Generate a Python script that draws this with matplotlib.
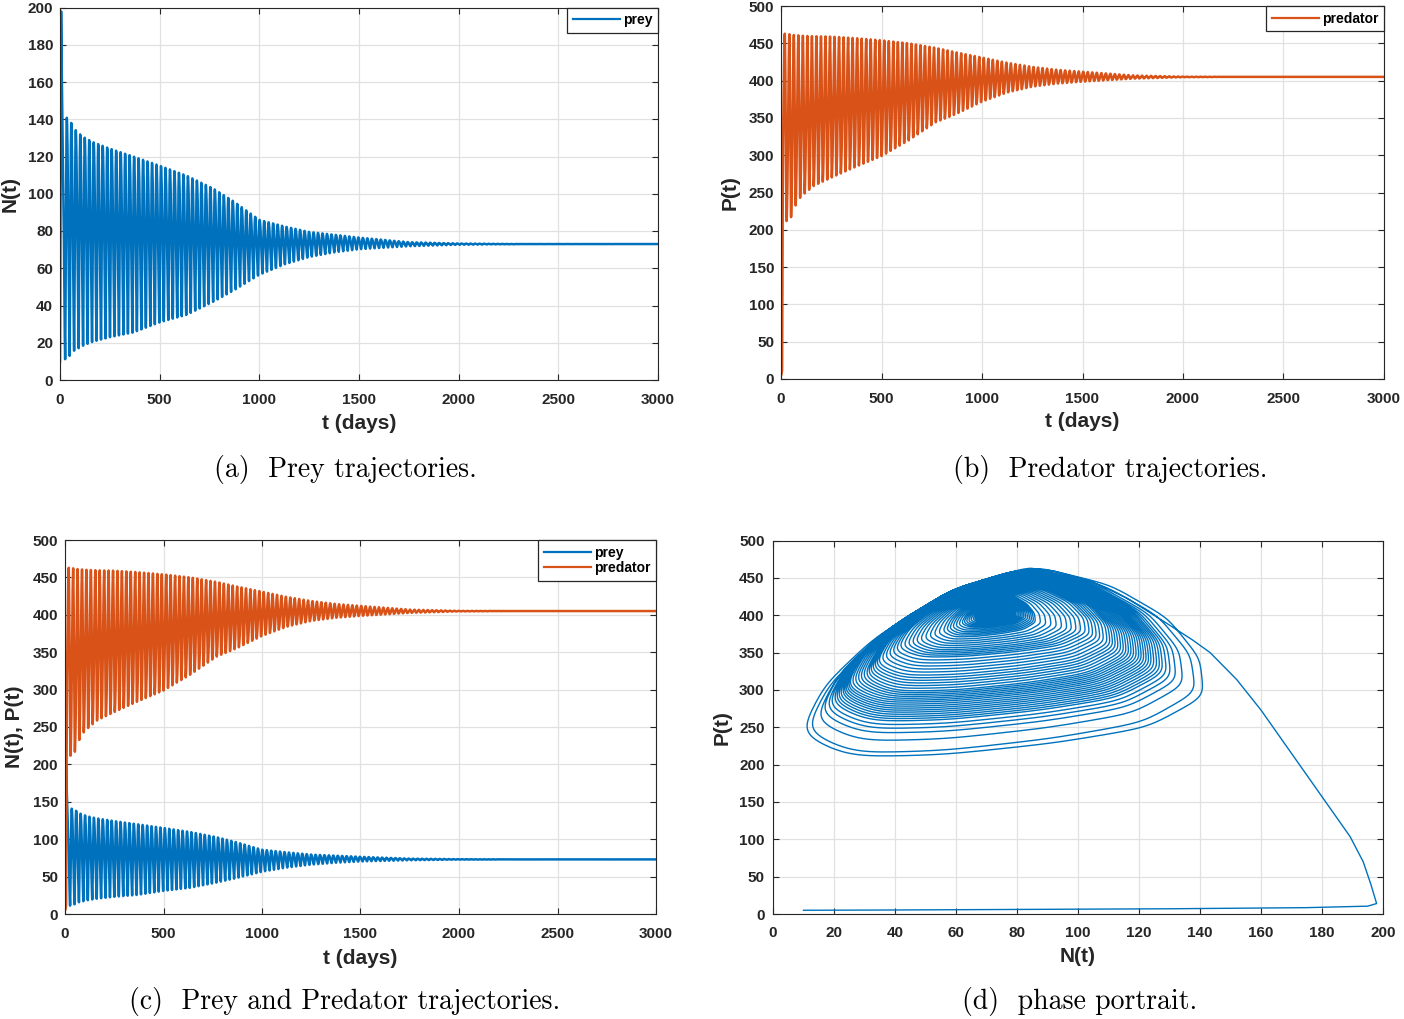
import numpy as np
import matplotlib
matplotlib.use('Agg')
import matplotlib.pyplot as plt

plt.rcParams['font.family'] = ['Liberation Sans', 'DejaVu Sans']
plt.rcParams['font.weight'] = 'bold'
plt.rcParams['axes.labelweight'] = 'bold'

BLUE = '#0072BD'
ORANGE = '#D95319'
DARK = '#262626'

# ---- data ----
# start-up transient (days, prey, predator), traced from the phase portrait
t_init = [0, 1, 2, 3, 4, 5, 5.6, 5.9, 6.2, 6.6, 7.4, 8.4, 9.5, 10.5, 11.6, 12.4,
          13.6, 15, 16.5, 17.8, 19]
prey_init = [10, 35, 75, 130, 175, 195, 197.9, 196, 193.5, 189.2, 180, 170, 160, 152,
             143.3, 137.5, 128, 116, 104, 92, 84]
pred_init = [5, 5.3, 6, 7, 8.5, 10.5, 14, 40, 70, 103.7, 157, 215, 273, 314,
             350, 367, 392, 423, 446, 459, 463]

# envelopes of the damped oscillation (upper / lower extremes)
env_t = [19, 45, 67, 92, 117, 164, 251, 368, 502, 636, 769, 870, 1000,
         1125, 1250, 1375, 1500, 1750, 2000, 2300, 3000]
prey_hi = [140.8, 140.8, 135.4, 132.7, 130.5, 127.8, 124.2, 120, 115, 109.7,
           102.8, 96, 86, 82.5, 79.5, 78, 76.5, 74, 73.3, 73, 73]
prey_lo = [10.7, 12.5, 15.5, 17, 18.5, 20.5, 23, 25.5, 31, 35, 42, 48,
           56.5, 62, 66, 68.5, 70.2, 71.8, 72.6, 72.9, 73]
pred_hi = [463, 462, 461, 460.5, 460, 459.5, 459, 457, 454, 450, 444, 438,
           431, 424, 418.5, 414.5, 412, 407, 405.3, 405, 405]
pred_lo = [211, 213, 230, 242, 248.6, 259, 270, 284, 299, 320, 344, 355,
           371.7, 384, 391.8, 396, 398.5, 402.6, 404.5, 405, 405]

PERIOD = 22.5  # days per cycle, from the spike spacing

# one loop of the phase portrait, normalised to [0, 1] (prey u, predator v)
loop_phase = [0.00, 0.09, 0.18, 0.25, 0.31, 0.36, 0.42, 0.49, 0.56, 0.64, 0.72, 0.81, 0.90]
loop_u = [0.57, 0.36, 0.18, 0.06, 0.00, 0.12, 0.35, 0.62, 0.85, 0.99, 0.98, 0.90, 0.76]
loop_v = [1.00, 0.86, 0.62, 0.38, 0.13, 0.01, 0.02, 0.08, 0.16, 0.32, 0.52, 0.73, 0.90]


def smooth_loop(values, sigma=0.015):
    grid = np.linspace(0, 1, 720, endpoint=False)
    dense = np.interp(grid, loop_phase, values, period=1.0)
    k = np.fft.rfftfreq(grid.size, d=1.0 / grid.size)
    spec = np.fft.rfft(dense) * np.exp(-2 * (np.pi * sigma * k) ** 2)
    s = np.fft.irfft(spec, n=grid.size)
    return grid, (s - s.min()) / (s.max() - s.min())


grid, shape_u = smooth_loop(loop_u)
_, shape_v = smooth_loop(loop_v)

t_cyc = np.arange(env_t[0], 3000.01, 0.1)
theta = ((t_cyc - env_t[0]) / PERIOD) % 1.0
u = np.interp(theta, grid, shape_u, period=1.0)
v = np.interp(theta, grid, shape_v, period=1.0)
n_lo, n_hi = np.interp(t_cyc, env_t, prey_lo), np.interp(t_cyc, env_t, prey_hi)
p_lo, p_hi = np.interp(t_cyc, env_t, pred_lo), np.interp(t_cyc, env_t, pred_hi)

t = np.concatenate([t_init[:-1], t_cyc])
prey = np.concatenate([prey_init[:-1], n_lo + (n_hi - n_lo) * u])
pred = np.concatenate([pred_init[:-1], p_lo + (p_hi - p_lo) * v])

# ---- figure ----
W, H = 1404, 1019
fig = plt.figure(figsize=(W / 100, H / 100), dpi=100)


def add_axes(l, t_, r, b):
    return fig.add_axes([l / W, 1 - b / H, (r - l) / W, (b - t_) / H])


def style(ax, xlim, xticks, ylim, yticks, xlabel, ylabel, xpad=9.5, ypad=5):
    ax.set_xlim(xlim)
    ax.set_ylim(ylim)
    ax.set_xticks(xticks)
    ax.set_yticks(yticks)
    ax.grid(True, color='#e1e1e1', lw=0.9)
    ax.set_axisbelow(True)
    ax.tick_params(axis='both', direction='in', length=4, width=0.8,
                   top=True, right=True, labelsize=11, colors=DARK)
    ax.tick_params(axis='x', pad=xpad)
    ax.tick_params(axis='y', pad=ypad)
    for sp in ax.spines.values():
        sp.set_color(DARK)
        sp.set_linewidth(0.8)
    ax.set_xlabel(xlabel, fontsize=15, color=DARK)
    ax.set_ylabel(ylabel, fontsize=15, color=DARK)


def place_labels(ax, xl_y, yl_x):
    ax.xaxis.set_label_coords(0.5, xl_y)
    ax.xaxis.label.set_va('center')
    ax.yaxis.set_label_coords(yl_x, 0.5)
    ax.yaxis.label.set_va('center')


def legend(ax):
    leg = ax.legend(loc='upper right', borderaxespad=0, fontsize=10,
                    handlelength=3.4, handletextpad=0.2, borderpad=0.4,
                    labelspacing=0.1, fancybox=False, framealpha=1)
    leg.get_frame().set_edgecolor(DARK)
    leg.get_frame().set_linewidth(0.9)
    for line in leg.get_lines():
        line.set_linewidth(1.6)
    return leg


tx = [0, 500, 1000, 1500, 2000, 2500, 3000]
LW = 1.8

# (a) prey
ax_a = add_axes(60, 7.5, 658, 380)
ax_a.plot(t, prey, color=BLUE, lw=LW, label='prey')
style(ax_a, (0, 3000), tx, (0, 200), range(0, 201, 20), 't (days)', 'N(t)')
place_labels(ax_a, -0.116, -0.084)
legend(ax_a)

# (b) predator
ax_b = add_axes(781, 6, 1384, 379)
ax_b.plot(t, pred, color=ORANGE, lw=LW, label='predator')
style(ax_b, (0, 3000), tx, (0, 500), range(0, 501, 50), 't (days)', 'P(t)')
place_labels(ax_b, -0.115, -0.085)
legend(ax_b)

# (c) both
ax_c = add_axes(65, 540, 656, 914)
ax_c.plot(t, prey, color=BLUE, lw=LW, label='prey')
ax_c.plot(t, pred, color=ORANGE, lw=LW, label='predator')
style(ax_c, (0, 3000), tx, (0, 500), range(0, 501, 50), 't (days)', 'N(t), P(t)')
place_labels(ax_c, -0.118, -0.086)
legend(ax_c)

# (d) phase portrait
ax_d = add_axes(773, 540.5, 1383, 914)
ax_d.plot(prey, pred, color=BLUE, lw=1.0)
style(ax_d, (0, 200), range(0, 201, 20), (0, 500), range(0, 501, 50), 'N(t)', 'P(t)',
      xpad=8.5, ypad=6)
place_labels(ax_d, -0.115, -0.084)

captions = ['(a)  Prey trajectories.', '(b)  Predator trajectories.',
            '(c)  Prey and Predator trajectories.', '(d)  phase portrait.']
cap_xy = [(345, 470), (1110, 470), (345, 1002), (1080, 1002)]
for txt, (cx, cy) in zip(captions, cap_xy):
    fig.text(cx / W, 1 - cy / H, txt, ha='center', va='center', fontsize=20,
             family='cmr10', weight='normal', color='black')

fig.savefig('out.png', dpi=100)
